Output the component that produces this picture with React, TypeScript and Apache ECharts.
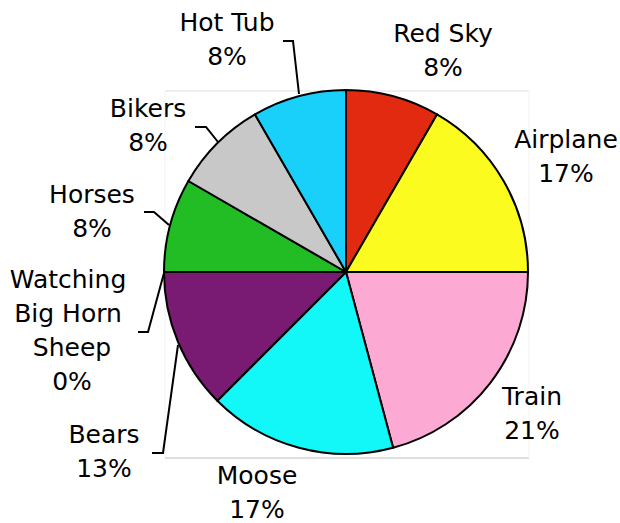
import React, { useEffect, useRef } from 'react';
import * as echarts from 'echarts';

// Data (counts; total 24)
const categories = ['Red Sky', 'Airplane', 'Train', 'Moose', 'Bears', 'Watching Big Horn Sheep', 'Horses', 'Bikers', 'Hot Tub'];
const counts = [2, 4, 5, 4, 3, 0, 2, 2, 2];

// Styles
const sliceColors = ['#E12A10', '#FBFB1F', '#FCA9D3', '#12F8F8', '#7A1B73', '#888888', '#22BC25', '#C8C8C8', '#18D0FA'];
const labelCenters: number[][] = [
  [443, 50], [566, 156], [532, 413], [257, 492], [104, 451], [72, 330], [92, 211], [148, 125], [227, 39],
];
const leaderLines: Record<number, number[][]> = {
  4: [[178, 345], [163, 453], [152, 453]],
  5: [[164, 273], [148, 332], [138, 332]],
  6: [[169, 225], [154, 212], [144, 212]],
  7: [[218, 142], [206, 127], [195, 127]],
  8: [[299, 94], [293, 41], [283, 41]],
};

export default function App() {
  const ref = useRef<HTMLDivElement>(null);
  useEffect(() => {
    if (!ref.current) return;
    const chart = echarts.init(ref.current, null, { renderer: 'svg' });
    const data = categories.map((name, i) => ({
      name,
      value: counts[i],
      itemStyle: { color: sliceColors[i] },
      labelLine: { show: !!leaderLines[i] },
    }));
    chart.setOption({
      animation: false,
      backgroundColor: '#ffffff',
      graphic: [
        { type: 'line', z: -10, shape: { x1: 165, y1: 91, x2: 529, y2: 91 }, style: { stroke: '#dedede', lineWidth: 1 } },
        { type: 'line', z: -10, shape: { x1: 165, y1: 458, x2: 529, y2: 458 }, style: { stroke: '#bdbdbd', lineWidth: 1 } },
        { type: 'line', z: -10, shape: { x1: 165, y1: 91, x2: 165, y2: 458 }, style: { stroke: '#f2f2f2', lineWidth: 1 } },
        { type: 'line', z: -10, shape: { x1: 529, y1: 91, x2: 529, y2: 458 }, style: { stroke: '#f2f2f2', lineWidth: 1 } },
      ],
      series: [
        {
          type: 'pie',
          center: [346, 272],
          radius: 182,
          startAngle: 90,
          clockwise: true,
          percentPrecision: 0,
          avoidLabelOverlap: false,
          itemStyle: { borderColor: '#000000', borderWidth: 2 },
          label: {
            show: true,
            position: 'outside',
            formatter: '{b}\n{d}%',
            color: '#000000',
            fontSize: 25,
            fontFamily: 'DejaVu Sans',
            lineHeight: 34,
            align: 'center',
            width: 130,
            overflow: 'break',
          },
          labelLine: {
            show: true,
            lineStyle: { color: '#000000', width: 2 },
          },
          labelLayout: (params: any) => {
            const i = params.dataIndex;
            const [x, y] = labelCenters[i];
            const out: any = { x, y, align: 'center', verticalAlign: 'middle' };
            if (leaderLines[i]) out.labelLinePoints = leaderLines[i];
            return out;
          },
          emphasis: { disabled: true },
          data,
        },
      ],
    });
    return () => chart.dispose();
  }, []);
  return <div ref={ref} style={{ position: 'fixed', left: 0, top: 0, width: 620, height: 523 }} />;
}
